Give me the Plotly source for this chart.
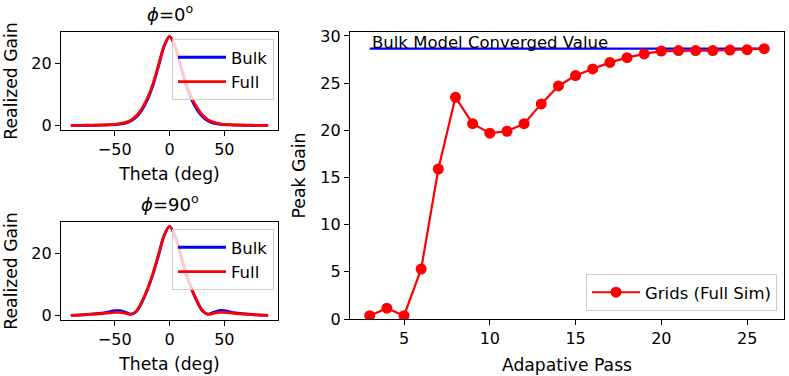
import plotly.graph_objects as go

# theta sweep (deg) for the two pattern cuts
theta = [-90, -85, -80, -75, -70, -65, -60, -55, -50, -45, -40, -35, -30, -25, -20, -15, -10, -5,
         0, 5, 10, 15, 20, 25, 30, 35, 40, 45, 50, 55, 60, 65, 70, 75, 80, 85, 90]

# phi = 0 cut
bulk_phi0 = [0.02, 0.03, 0.04, 0.06, 0.08, 0.1, 0.13, 0.18, 0.27, 0.45, 0.8, 1.5, 2.8, 5.1, 8.4, 13.0, 19.1, 25.4,
             28.7, 25.5, 19.3, 13.1, 8.5, 5.2, 2.9, 1.5, 0.8, 0.45, 0.27, 0.18, 0.13, 0.1, 0.08, 0.06, 0.04, 0.03, 0.02]
full_phi0 = [0.05, 0.06, 0.08, 0.1, 0.13, 0.16, 0.2, 0.27, 0.38, 0.6, 1.0, 1.8, 3.2, 5.6, 8.9, 13.5, 19.5, 25.6,
             28.7, 25.8, 19.8, 13.8, 9.1, 5.8, 3.4, 1.9, 1.1, 0.65, 0.4, 0.28, 0.2, 0.15, 0.12, 0.09, 0.07, 0.05, 0.04]

# phi = 90 cut
bulk_phi90 = [0.05, 0.1, 0.2, 0.35, 0.5, 0.65, 0.85, 1.2, 1.55, 1.55, 1.0, 0.45, 1.4, 4.4, 8.4, 13.4, 19.4, 25.6,
              28.7, 25.7, 19.6, 13.6, 8.6, 4.6, 1.5, 0.45, 1.0, 1.6, 1.6, 1.2, 0.85, 0.65, 0.5, 0.35, 0.2, 0.1, 0.05]
full_phi90 = [0.05, 0.1, 0.2, 0.3, 0.4, 0.5, 0.65, 0.85, 1.0, 1.0, 0.7, 0.35, 1.5, 4.6, 8.6, 13.6, 19.6, 25.7,
              28.7, 25.8, 19.8, 13.8, 8.8, 4.8, 1.6, 0.35, 0.7, 1.0, 1.0, 0.85, 0.65, 0.5, 0.4, 0.3, 0.2, 0.1, 0.05]

# convergence study
passes = [3, 4, 5, 6, 7, 8, 9, 10, 11, 12, 13, 14, 15, 16, 17, 18, 19, 20, 21, 22, 23, 24, 25, 26]
peak_gain = [0.35, 1.15, 0.35, 5.3, 15.9, 23.5, 20.7, 19.7, 19.9, 20.7, 22.8, 24.7, 25.8, 26.5,
             27.2, 27.7, 28.1, 28.4, 28.45, 28.45, 28.45, 28.5, 28.55, 28.65]
bulk_converged = 28.66

FONT = "DejaVu Sans"
FS = 16.5
W, H = 789, 376

fig = go.Figure()

cuts = [(bulk_phi0, full_phi0, "x", "y", "legend"),
        (bulk_phi90, full_phi90, "x2", "y2", "legend2")]
for bulk, full, xa, ya, leg in cuts:
    fig.add_trace(go.Scatter(x=theta, y=bulk, mode="lines", name="Bulk", xaxis=xa, yaxis=ya, legend=leg,
                             line=dict(color="blue", width=2.8, shape="spline", smoothing=0.8)))
    fig.add_trace(go.Scatter(x=theta, y=full, mode="lines", name="Full", xaxis=xa, yaxis=ya, legend=leg,
                             line=dict(color="red", width=2.8, shape="spline", smoothing=0.8)))

fig.add_trace(go.Scatter(x=[passes[0], passes[-1]], y=[bulk_converged, bulk_converged], mode="lines",
                         xaxis="x3", yaxis="y3", showlegend=False, line=dict(color="blue", width=2.2)))
fig.add_trace(go.Scatter(x=passes, y=peak_gain, mode="lines+markers", name="Grids (Full Sim)",
                         xaxis="x3", yaxis="y3", legend="legend3", cliponaxis=True,
                         line=dict(color="red", width=2.2), marker=dict(color="red", size=11)))

axis_style = dict(showline=True, linecolor="black", linewidth=1.2, mirror=True, ticks="outside",
                  ticklen=5, tickwidth=1.2, tickcolor="black", showgrid=False, zeroline=False,
                  automargin=False, tickfont=dict(family=FONT, size=16, color="black"))
title_font = dict(family=FONT, size=17.2, color="black")


def px_x(a, b):
    return [a / W, b / W]


def px_y(top, bot):
    return [1 - bot / H, 1 - top / H]


legend_style = dict(bgcolor="rgba(255,255,255,0.8)", bordercolor="#cccccc", borderwidth=1,
                    font=dict(size=FS), tracegroupgap=0, itemwidth=48)

fig.update_layout(
    width=W, height=H, margin=dict(l=0, r=0, t=0, b=0, autoexpand=False),
    paper_bgcolor="white", plot_bgcolor="white",
    font=dict(family=FONT, size=FS, color="black"),
    xaxis=dict(domain=px_x(61, 278), range=[-99, 99], tickvals=[-50, 0, 50], ticktext=["\u221250", "0", "50"],
               anchor="y", title=dict(text="Theta (deg)", standoff=9, font=title_font), **axis_style),
    yaxis=dict(domain=px_y(32, 130), range=[-1.44, 30.1], tickvals=[0, 20], anchor="x",
               title=dict(text="Realized Gain", standoff=9, font=title_font), **axis_style),
    xaxis2=dict(domain=px_x(61, 278), range=[-99, 99], tickvals=[-50, 0, 50], ticktext=["\u221250", "0", "50"],
                anchor="y2", title=dict(text="Theta (deg)", standoff=9, font=title_font), **axis_style),
    yaxis2=dict(domain=px_y(222, 320), range=[-1.44, 30.1], tickvals=[0, 20], anchor="x2",
                title=dict(text="Realized Gain", standoff=9, font=title_font), **axis_style),
    xaxis3=dict(domain=px_x(350, 784), range=[1.85, 27.15], tickvals=[5, 10, 15, 20, 25], anchor="y3",
                title=dict(text="Adapative Pass", standoff=11, font=title_font), **axis_style),
    yaxis3=dict(domain=px_y(32, 319), range=[0, 30.42], tickvals=[0, 5, 10, 15, 20, 25, 30], anchor="x3",
                title=dict(text="Peak Gain", standoff=10, font=title_font), **axis_style),
    legend=dict(x=172 / W, y=1 - 39 / H, xanchor="left", yanchor="top", **legend_style),
    legend2=dict(x=172 / W, y=1 - 229 / H, xanchor="left", yanchor="top", **legend_style),
    legend3=dict(x=586 / W, y=1 - 311 / H, xanchor="left", yanchor="bottom", **legend_style),
)

fig.add_annotation(x=169.5 / W, y=1 - 13 / H, xref="paper", yref="paper", showarrow=False,
                   xanchor="center", yanchor="middle",
                   text="<i>\u03d5</i>=0<sup>o</sup>", font=dict(size=18))
fig.add_annotation(x=169.5 / W, y=1 - 203 / H, xref="paper", yref="paper", showarrow=False,
                   xanchor="center", yanchor="middle",
                   text="<i>\u03d5</i>=90<sup>o</sup>", font=dict(size=18))
fig.add_annotation(x=3, y=bulk_converged, xref="x3", yref="y3", showarrow=False, xanchor="left",
                   yanchor="bottom", yshift=-5, text="Bulk Model Converged Value", font=dict(size=FS))

# the page body has a default 8px margin; drop it so the figure fills the window
fig.write_html("out.html", config={"displayModeBar": False},
               post_script="document.body.style.margin='0';")
